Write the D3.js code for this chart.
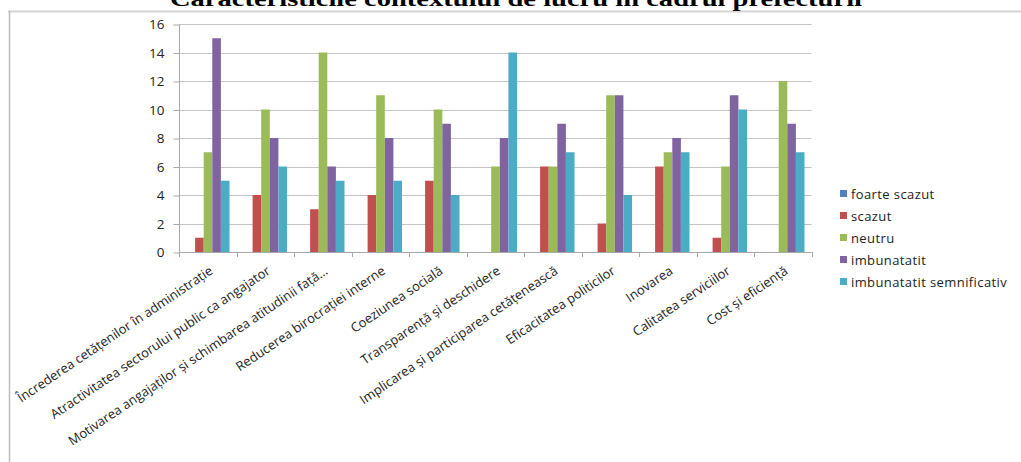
<!DOCTYPE html>
<html>
<head>
<meta charset="utf-8">
<script src="https://cdn.jsdelivr.net/npm/d3@7"></script>
<style>
  html, body { margin: 0; padding: 0; background: #fff; }
  svg { display: block; }
  .ylab, .xlab, .leg { font-family: "Open Sans", sans-serif; fill: #222; }
</style>
</head>
<body>
<svg id="chart" width="1021" height="462"></svg>
<script>
// chart values
var categories = [
  'Încrederea cetățenilor în administrație',
  'Atractivitatea sectorului public ca angajator',
  'Motivarea angajaților și schimbarea atitudinii față…',
  'Reducerea birocrației interne',
  'Coeziunea socială',
  'Transparență și deschidere',
  'Implicarea și participarea cetățenească',
  'Eficacitatea politicilor',
  'Inovarea',
  'Calitatea serviciilor',
  'Cost și eficiență'
];
var seriesNames = ['foarte scazut', 'scazut', 'neutru', 'imbunatatit', 'imbunatatit semnificativ'];
var foarteScazut = [0, 0, 0, 0, 0, 0, 0, 0, 0, 0, 0];
var scazut       = [1, 4, 3, 4, 5, 0, 6, 2, 6, 1, 0];
var neutru       = [7, 10, 14, 11, 10, 6, 6, 11, 7, 6, 12];
var imbunatatit  = [15, 8, 6, 8, 9, 8, 9, 11, 8, 11, 9];
var semnificativ = [5, 6, 5, 5, 4, 14, 7, 4, 7, 10, 7];
var yTicks = [0, 2, 4, 6, 8, 10, 12, 14, 16];
var titleText = 'Caracteristicile contextului de lucru în cadrul prefecturii';

;(function() {
  'use strict';

  var seriesValues = [foarteScazut, scazut, neutru, imbunatatit, semnificativ];
  var colors = ['#4F81BD', '#C0504D', '#9BBB59', '#8064A2', '#4BACC6'];

  var svg = d3.select('#chart');

  // outer frame (only top and left edge visible)
  svg.append('line').attr('x1', 8).attr('y1', 11.5).attr('x2', 1021).attr('y2', 11.5)
    .attr('stroke', '#d4d4d4').attr('stroke-width', 2);
  svg.append('line').attr('x1', 9.5).attr('y1', 11).attr('x2', 9.5).attr('y2', 462)
    .attr('stroke', '#bcbcbc').attr('stroke-width', 1.5);

  // title, cut off at the top like in the source
  svg.append('text')
    .attr('x', 516).attr('y', 6)
    .attr('text-anchor', 'middle')
    .attr('font-family', '"Liberation Serif", "DejaVu Serif", serif')
    .attr('font-weight', 'bold')
    .attr('font-size', 22)
    .attr('textLength', 692)
    .attr('lengthAdjust', 'spacingAndGlyphs')
    .attr('fill', '#000')
    .text(titleText);

  var plotLeft = 179, plotRight = 811.5, plotTop = 24, plotBottom = 252;

  var y = d3.scaleLinear().domain([0, 16]).range([plotBottom, plotTop]);
  var x0 = d3.scaleBand().domain(categories).range([plotLeft, plotRight]).padding(0);
  var bw = x0.bandwidth();
  var x1 = d3.scaleBand().domain(seriesNames).range([7.5, bw - 7]).padding(0);

  // gridlines
  svg.append('g').selectAll('line').data(yTicks.filter(function(d) { return d > 0; }))
    .enter().append('line')
    .attr('x1', plotLeft).attr('x2', plotRight)
    .attr('y1', function(d) { return Math.round(y(d)) + 0.5; })
    .attr('y2', function(d) { return Math.round(y(d)) + 0.5; })
    .attr('stroke', '#c4c4c4').attr('stroke-width', 1.2);

  // y axis
  var yAxis = svg.append('g')
    .attr('transform', 'translate(' + (plotLeft + 0.5) + ',0.5)')
    .call(d3.axisLeft(y).tickValues(yTicks).tickSize(6).tickPadding(9).tickFormat(d3.format('d')));
  yAxis.select('.domain').attr('stroke', '#a8a8a8')
    .attr('d', 'M0,' + Math.round(y(16)) + 'V' + Math.round(y(0)));
  yAxis.selectAll('.tick line').attr('stroke', '#a8a8a8');
  yAxis.selectAll('.tick text').attr('class', 'ylab').attr('font-size', 13.5);

  // bars
  var groups = svg.append('g').selectAll('g.cat')
    .data(categories).enter().append('g')
    .attr('class', 'cat')
    .attr('transform', function(d) { return 'translate(' + x0(d) + ',0)'; });

  groups.selectAll('rect')
    .data(function(d, i) {
      return seriesNames.map(function(s, k) { return { s: s, k: k, v: seriesValues[k][i] }; });
    })
    .enter().append('rect')
    .attr('x', function(d) { return x1(d.s); })
    .attr('width', x1.bandwidth())
    .attr('y', function(d) { return y(d.v); })
    .attr('height', function(d) { return y(0) - y(d.v); })
    .attr('fill', function(d) { return colors[d.k]; });

  // x axis line and ticks
  var xAxisG = svg.append('g');
  xAxisG.append('line').attr('x1', plotLeft).attr('x2', plotRight)
    .attr('y1', plotBottom + 0.5).attr('y2', plotBottom + 0.5).attr('stroke', '#a8a8a8');
  xAxisG.selectAll('line.xt')
    .data(categories.map(function(c) { return x0(c); }).concat([plotRight]))
    .enter().append('line').attr('class', 'xt')
    .attr('x1', function(d) { return Math.round(d) + 0.5; })
    .attr('x2', function(d) { return Math.round(d) + 0.5; })
    .attr('y1', plotBottom).attr('y2', plotBottom + 5)
    .attr('stroke', '#a8a8a8');

  // rotated category labels
  svg.append('g').selectAll('text')
    .data(categories).enter().append('text')
    .attr('class', 'xlab')
    .attr('font-size', 13)
    .attr('text-anchor', 'end')
    .attr('transform', function(d) {
      return 'translate(' + (x0(d) + bw / 2 + 6) + ',' + (plotBottom + 21) + ') rotate(-34)';
    })
    .text(function(d) { return d; });

  // legend
  var legend = svg.append('g').attr('transform', 'translate(840,194)');
  var items = legend.selectAll('g').data(seriesNames).enter().append('g')
    .attr('transform', function(d, i) { return 'translate(0,' + (i * 22) + ')'; });
  items.append('rect').attr('x', 0).attr('y', -4).attr('width', 7).attr('height', 7)
    .attr('fill', function(d, i) { return colors[i]; });
  items.append('text').attr('class', 'leg').attr('x', 11).attr('y', 4.5)
    .attr('font-size', 13)
    .attr('letter-spacing', 0.4)
    .text(function(d) { return d; });
}());
</script>
</body>
</html>
